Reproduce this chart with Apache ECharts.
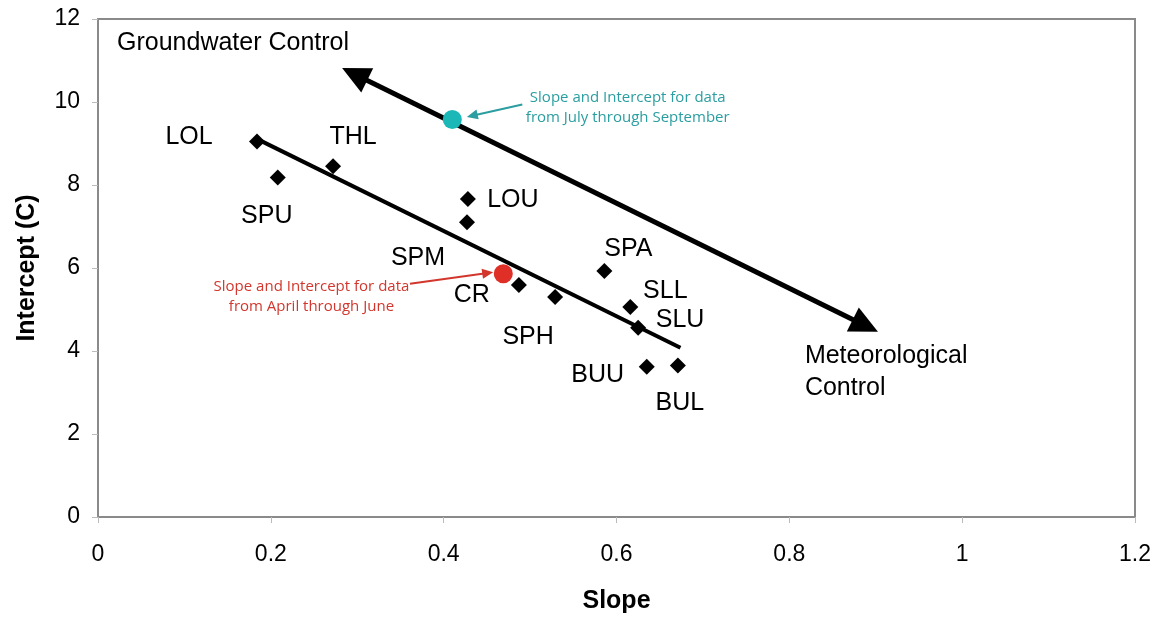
<!DOCTYPE html>
<html>
<head>
<meta charset="utf-8">
<script src="https://cdn.jsdelivr.net/npm/echarts@6/dist/echarts.min.js"></script>
<style>html,body{margin:0;padding:0;background:#fff;}#c{width:1165px;height:619px;}</style>
</head>
<body>
<div id="c"></div>
<script>
// ---- data ----
const siteNames = ['LOL','SPU','THL','LOU','SPM','CR','SPH','SPA','SLL','SLU','BUU','BUL'];
const siteSlopes = [0.184, 0.208, 0.272, 0.428, 0.427, 0.487, 0.529, 0.586, 0.616, 0.625, 0.635, 0.671];
const siteIntercepts = [9.05, 8.18, 8.45, 7.66, 7.10, 5.59, 5.30, 5.93, 5.06, 4.56, 3.62, 3.65];

const trendSlopes = [0.185, 0.674];
const trendIntercepts = [9.10, 4.08];

const controlArrowSlopes = [0.297, 0.888];
const controlArrowIntercepts = [10.67, 4.61];

const julSepPoint = [0.410, 9.58];
const aprJunPoint = [0.469, 5.86];
const julSepArrow = [[0.491, 9.94], [0.433, 9.67]];
const aprJunArrow = [[0.361, 5.62], [0.451, 5.88]];

const xTicks = [0, 0.2, 0.4, 0.6, 0.8, 1, 1.2];
const yTicks = [0, 2, 4, 6, 8, 10, 12];

const noteTexts = ['Groundwater Control', 'Meteorological\nControl'];
const noteAnchors = [[0.022, 11.42], [0.818, 3.50]];
const julSepText = 'Slope and Intercept for data\nfrom July through September';
const julSepTextAnchor = [0.613, 9.87];
const aprJunText = 'Slope and Intercept for data\nfrom April through June';
const aprJunTextAnchor = [0.247, 5.31];

// ---- label placement (pixel offsets from marker) ----
const labelOffsets = {
  LOL: [-68, -4], SPU: [-11, 39], THL: [20, -29], LOU: [45, 1], SPM: [-49, 36],
  CR: [-47, 10], SPH: [-27, 40], SPA: [24, -22], SLL: [35, -16], SLU: [42, -8],
  BUU: [-49, 8], BUL: [2, 38]
};

const FONT = '"Liberation Sans", Arial, sans-serif';
const TEAL_DOT = '#1cb8b8', TEAL_TXT = '#2a9ea0';
const RED_DOT = '#df2f26', RED_TXT = '#d2362c';

const chart = echarts.init(document.getElementById('c'), null, {renderer: 'canvas'});

const siteData = siteNames.map((n, i) => ({
  name: n,
  value: [siteSlopes[i], siteIntercepts[i]],
  label: {offset: labelOffsets[n]}
}));

const option = {
  animation: false,
  backgroundColor: '#fff',
  grid: {left: 98, right: 30, top: 19, bottom: 100, show: true, borderColor: '#8a8a8a', borderWidth: 2, backgroundColor: 'transparent'},
  xAxis: {
    type: 'value', min: xTicks[0], max: xTicks[xTicks.length - 1], interval: 0.2,
    name: 'Slope', nameLocation: 'middle', nameGap: 72,
    nameTextStyle: {fontFamily: FONT, fontWeight: 'bold', fontSize: 25, color: '#000'},
    axisLine: {show: true, lineStyle: {color: '#8a8a8a', width: 2}},
    axisTick: {show: true, length: 6, lineStyle: {color: '#bbb', width: 1}},
    splitLine: {show: false},
    axisLabel: {fontFamily: FONT, fontSize: 23, color: '#000', margin: 26,
      formatter: v => String(Math.round(v * 10) / 10)}
  },
  yAxis: {
    type: 'value', min: yTicks[0], max: yTicks[yTicks.length - 1], interval: 2,
    name: 'Intercept (C)', nameLocation: 'middle', nameGap: 58, nameRotate: 90,
    nameTextStyle: {fontFamily: FONT, fontWeight: 'bold', fontSize: 25, color: '#000'},
    axisLine: {show: true, lineStyle: {color: '#8a8a8a', width: 2}},
    axisTick: {show: true, length: 6, lineStyle: {color: '#bbb', width: 1}},
    splitLine: {show: false},
    axisLabel: {fontFamily: FONT, fontSize: 23, color: '#000', margin: 18}
  },
  series: [
    {
      name: 'trend', type: 'line', silent: true, z: 2,
      data: trendSlopes.map((x, i) => [x, trendIntercepts[i]]),
      symbol: 'none', lineStyle: {color: '#000', width: 4, opacity: 1}
    },
    {
      name: 'control', type: 'line', silent: true, z: 2,
      data: [],
      markLine: {
        silent: true, symbol: ['triangle', 'triangle'], symbolSize: [27, 28],
        label: {show: false},
        lineStyle: {color: '#000', width: 5, type: 'solid', opacity: 1},
        itemStyle: {color: '#000', opacity: 1},
        data: [[
          {coord: [controlArrowSlopes[0], controlArrowIntercepts[0]]},
          {coord: [controlArrowSlopes[1], controlArrowIntercepts[1]]}
        ]]
      }
    },
    {
      name: 'pointers', type: 'line', silent: true, z: 3, data: [],
      markLine: {
        silent: true, symbol: ['none', 'triangle'], symbolSize: [10, 11],
        label: {show: false},
        data: [
          [{coord: julSepArrow[0], lineStyle: {color: TEAL_TXT, width: 2, type: 'solid', opacity: 1}, itemStyle: {color: TEAL_TXT, opacity: 1}},
           {coord: julSepArrow[1]}],
          [{coord: aprJunArrow[0], lineStyle: {color: RED_TXT, width: 2, type: 'solid', opacity: 1}, itemStyle: {color: RED_TXT, opacity: 1}},
           {coord: aprJunArrow[1]}]
        ]
      }
    },
    {
      name: 'sites', type: 'scatter', z: 5,
      symbol: 'diamond', symbolSize: 16,
      itemStyle: {color: '#000', opacity: 1},
      label: {show: true, position: 'inside', formatter: '{b}', fontFamily: FONT, fontSize: 25, color: '#000'},
      data: siteData
    },
    {
      name: 'seasonal', type: 'scatter', z: 6, symbolSize: 19,
      itemStyle: {opacity: 1},
      data: [
        {value: julSepPoint, itemStyle: {color: TEAL_DOT, opacity: 1}},
        {value: aprJunPoint, itemStyle: {color: RED_DOT, opacity: 1}}
      ]
    },
    {
      name: 'notes', type: 'scatter', z: 7, symbolSize: 0, silent: true,
      itemStyle: {opacity: 1},
      label: {show: true, position: 'right', distance: 0, formatter: '{b}',
        fontFamily: FONT, fontSize: 25, color: '#000', lineHeight: 32},
      data: noteTexts.map((t, i) => ({name: t, value: noteAnchors[i]}))
    },
    {
      name: 'annotations', type: 'scatter', z: 7, symbolSize: 0, silent: true,
      itemStyle: {opacity: 1},
      label: {show: true, position: 'inside', formatter: '{b}', fontFamily: '"Open Sans", sans-serif',
        fontSize: 15, lineHeight: 20, align: 'center'},
      data: [
        {name: julSepText, value: julSepTextAnchor, label: {color: TEAL_TXT}},
        {name: aprJunText, value: aprJunTextAnchor, label: {color: RED_TXT}}
      ]
    }
  ]
};
chart.setOption(option);
</script>
</body>
</html>
